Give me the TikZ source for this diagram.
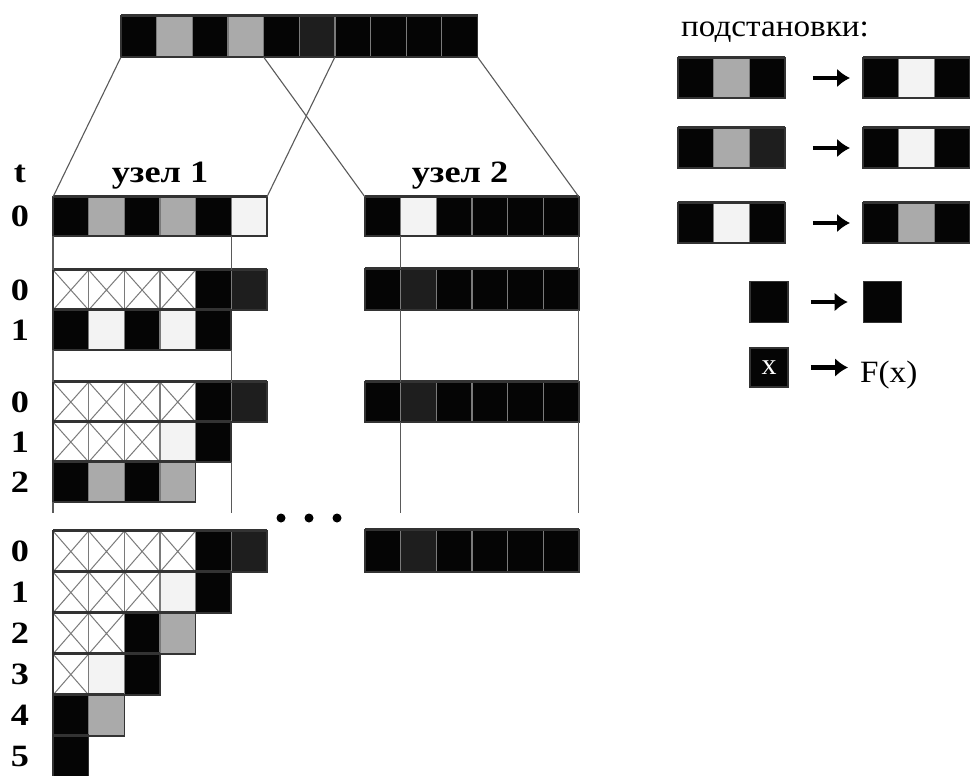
\documentclass[tikz,border=0pt]{standalone}
\usepackage{fontspec}
\usepackage{graphicx}
\setmainfont{Liberation Serif}
\usetikzlibrary{arrows.meta,calc}
\definecolor{cblk}{HTML}{050505}
\definecolor{cdrk}{HTML}{1E1E1E}
\definecolor{cgry}{HTML}{AAAAAA}
\definecolor{clgt}{HTML}{F3F3F3}
\definecolor{cedge}{HTML}{7A7A7A}
\definecolor{cline}{HTML}{5A5A5A}
\definecolor{cout}{HTML}{333333}
\def\cw{35.65}
\newcommand\cellbar[6]{% name, x, y, h, n, list
  \foreach \cellc [count=\i from 0] in {#6}{%
    \path[cell\cellc] ({#2+\i*\cw},#3) rectangle ({#2+(\i+1)*\cw},{#3+#4});
  }%
  \node[inner sep=0,outer sep=0,minimum width={#5*\cw pt},minimum height={#4 pt},anchor=north west] (#1) at (#2,#3) {};
  \draw[barout] (#1.north west) rectangle (#1.south east);
  \draw[bartop] ([yshift=0.8pt]#1.north west) -- ([yshift=0.8pt]#1.north east);
}
\newcommand\wideL[1]{\scalebox{1.17}[1]{#1}}
\newcommand\wideR[1]{\scalebox{1.07}[1]{#1}}
\begin{document}
\begin{tikzpicture}[x=1pt,y=-1pt,
  cellbase/.style={draw=cedge,line width=1.2pt},
  cellk/.style={cellbase,fill=cblk},
  celld/.style={cellbase,fill=cdrk},
  cellg/.style={cellbase,fill=cgry},
  celll/.style={cellbase,fill=clgt},
  cellx/.style={cellbase,fill=white,path picture={
    \draw[cedge,line width=1pt] (path picture bounding box.south west) -- (path picture bounding box.north east)
    (path picture bounding box.north west) -- (path picture bounding box.south east);}},
  barout/.style={draw=cout,line width=1.6pt},
  bartop/.style={draw=cout,line width=2.2pt},
  conn/.style={draw=cline,line width=1.1pt},
  lab/.style={font=\fontsize{31}{36}\selectfont\bfseries,inner sep=0},
  headlab/.style={font=\fontsize{31}{36}\selectfont\bfseries,inner sep=0,anchor=base},
  single/.style={fill=cblk,draw=cout,line width=1.6pt,minimum width=38pt,minimum height=41pt,inner sep=0},
  bigarrow/.style={line width=4.5pt,-{Latex[length=13pt,width=19pt]}},
  dotnode/.style={circle,fill=black,inner sep=0,minimum size=9pt},
]
\useasboundingbox (0,0) rectangle (970,776);
\fill[white] (0,0) rectangle (970,776);

% top bar
\cellbar{top}{121}{16}{41}{10}{k,g,k,g,k,d,k,k,k,k}

% node 1
\cellbar{n1a}{53}{197}{39}{6}{k,g,k,g,k,l}
\cellbar{n1b0}{53}{270}{40}{6}{x,x,x,x,k,d}
\cellbar{n1b1}{53}{310}{40}{5}{k,l,k,l,k}
\cellbar{n1c0}{53}{382}{40}{6}{x,x,x,x,k,d}
\cellbar{n1c1}{53}{422}{40}{5}{x,x,x,l,k}
\cellbar{n1c2}{53}{462}{40}{4}{k,g,k,g}
\cellbar{n1d0}{53}{531}{41}{6}{x,x,x,x,k,d}
\cellbar{n1d1}{53}{572}{41}{5}{x,x,x,l,k}
\cellbar{n1d2}{53}{613}{41}{4}{x,x,k,g}
\cellbar{n1d3}{53}{654}{41}{3}{x,l,k}
\cellbar{n1d4}{53}{695}{41}{2}{k,g}
\cellbar{n1d5}{53}{736}{41}{1}{k}

% node 2
\cellbar{n2a}{365}{197}{39}{6}{k,l,k,k,k,k}
\cellbar{n2b}{365}{269}{41}{6}{k,d,k,k,k,k}
\cellbar{n2c}{365}{382}{40}{6}{k,d,k,k,k,k}
\cellbar{n2d}{365}{530}{42}{6}{k,d,k,k,k,k}

% connectors from top bar
\coordinate (tb4) at ($(top.south west)!0.4!(top.south east)$);
\coordinate (tb6) at ($(top.south west)!0.6!(top.south east)$);
\draw[conn] (top.south west) -- (n1a.north west);
\draw[conn] (tb4) -- (n2a.north west);
\draw[conn] (tb6) -- (n1a.north east);
\draw[conn] (top.south east) -- (n2a.north east);

% vertical guide lines, node 1
\draw[conn] (n1a.south west) -- (n1b0.north west);
\draw[conn] ($(n1a.south west)+(5*\cw,0)$) -- ($(n1b0.north west)+(5*\cw,0)$);
\draw[conn] (n1b1.south west) -- (n1c0.north west);
\draw[conn] (n1b1.south east) -- ($(n1c0.north west)+(5*\cw,0)$);
\coordinate (e1) at (53,513);
\coordinate (e2) at ({53+5*\cw},513);
\draw[conn] (n1c2.south west) -- (e1);
\draw[conn] (n1c1.south east) -- (e2);
% node 2
\draw[conn] ($(n2a.south west)+(\cw,0)$) -- ($(n2b.north west)+(\cw,0)$);
\draw[conn] (n2a.south east) -- (n2b.north east);
\draw[conn] ($(n2b.south west)+(\cw,0)$) -- ($(n2c.north west)+(\cw,0)$);
\draw[conn] (n2b.south east) -- (n2c.north east);
\coordinate (e3) at ({365+\cw},513);
\coordinate (e4) at ({365+6*\cw},513);
\draw[conn] ($(n2c.south west)+(\cw,0)$) -- (e3);
\draw[conn] (n2c.south east) -- (e4);

% dots
\node[dotnode] (d1) at (281,518) {};
\node[dotnode] (d2) at (309,518) {};
\node[dotnode] (d3) at (337,518) {};

% headings
\node[headlab] (h1) at (160,182) {\wideL{узел 1}};
\node[headlab] (h2) at (460,182) {\wideL{узел 2}};

% row labels
\coordinate (tx) at (20,0);
\node[lab] (lt) at (20,174) {\wideL{t}};
\node[lab] (la0) at (tx |- n1a.west) {\wideL{0}};
\node[lab] (lb0) at (tx |- n1b0.west) {\wideL{0}};
\node[lab] (lb1) at (tx |- n1b1.west) {\wideL{1}};
\node[lab] (lc0) at (tx |- n1c0.west) {\wideL{0}};
\node[lab] (lc1) at (tx |- n1c1.west) {\wideL{1}};
\node[lab] (lc2) at (tx |- n1c2.west) {\wideL{2}};
\node[lab] (ld0) at (tx |- n1d0.west) {\wideL{0}};
\node[lab] (ld1) at (tx |- n1d1.west) {\wideL{1}};
\node[lab] (ld2) at (tx |- n1d2.west) {\wideL{2}};
\node[lab] (ld3) at (tx |- n1d3.west) {\wideL{3}};
\node[lab] (ld4) at (tx |- n1d4.west) {\wideL{4}};
\node[lab] (ld5) at (tx |- n1d5.west) {\wideL{5}};

% substitutions
\node[font=\fontsize{31}{36}\selectfont,inner sep=0,anchor=base] (subst) at (775,37) {\wideR{подстановки:}};
\cellbar{s1l}{678}{58}{40}{3}{k,g,k}
\cellbar{s1r}{863}{58}{40}{3}{k,l,k}
\cellbar{s2l}{678}{128}{40}{3}{k,g,d}
\cellbar{s2r}{863}{128}{40}{3}{k,l,k}
\cellbar{s3l}{678}{203}{40}{3}{k,l,k}
\cellbar{s3r}{863}{203}{40}{3}{k,g,k}
\draw[bigarrow] ([xshift=28pt]s1l.east) -- ([xshift=-13pt]s1r.west);
\draw[bigarrow] ([xshift=28pt]s2l.east) -- ([xshift=-13pt]s2r.west);
\draw[bigarrow] ([xshift=28pt]s3l.east) -- ([xshift=-13pt]s3r.west);
\node[single] (s4l) at (769,302) {};
\node[single] (s4r) at (882.5,302) {};
\draw[bigarrow] ([xshift=22pt]s4l.east) -- ([xshift=-15pt]s4r.west);
\node[single,minimum height=39pt,text=white,font=\fontsize{30}{34}\selectfont] (s5l) at (769,367.5) {x};
\node[font=\fontsize{31}{36}\selectfont,inner sep=0,anchor=base west] (fx) at (860,382) {\wideR{F(x)}};
\draw[bigarrow] ([xshift=22pt]s5l.east) -- ($(s5l.east -| fx.west)+(-12,0)$);
\end{tikzpicture}
\end{document}
